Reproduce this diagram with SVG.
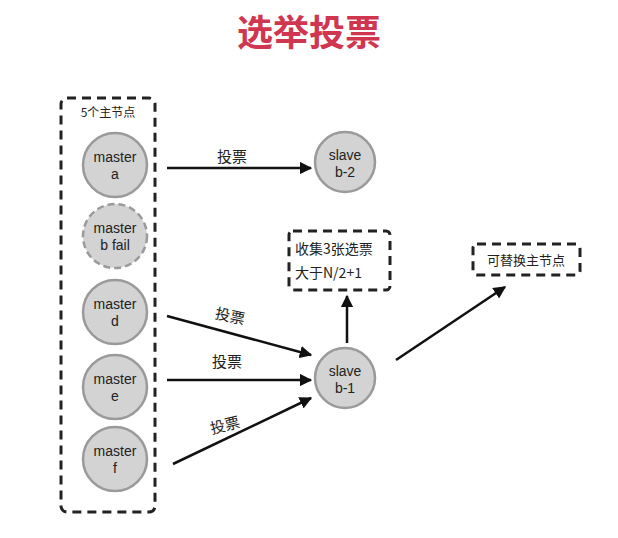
<svg xmlns="http://www.w3.org/2000/svg" width="618" height="538" viewBox="0 0 618 538">
<style>
.n{fill:#d3d3d3;stroke:#9a9a9a;stroke-width:2.5}
.t{font-family:"Liberation Sans",Arial,sans-serif;font-size:14px;fill:#222;text-anchor:middle}
.c{font-family:"Noto Sans CJK SC",sans-serif;fill:#222}
.box{fill:none;stroke:#222;stroke-width:3;stroke-dasharray:9 6}
.e{stroke:#111;stroke-width:2.5;fill:none;marker-end:url(#a)}
</style>
<defs><marker id="a" viewBox="0 0 10 10" refX="9" refY="5" markerWidth="5" markerHeight="5" orient="auto"><path d="M0,0L10,5L0,10z" fill="#111"/></marker></defs>
<rect width="618" height="538" fill="#fff"/>
<text x="309" y="46" font-family="Noto Sans CJK SC,sans-serif" font-size="36" font-weight="bold" fill="#d0364f" text-anchor="middle">选举投票</text>
<g id="group5"><rect class="box" x="61" y="98" width="94" height="414" rx="6"/>
<text class="c" x="108" y="117" font-size="12" text-anchor="middle">5个主节点</text></g>
<g id="ma"><circle class="n" cx="115" cy="165" r="32"/><text class="t" x="115" y="162">master</text><text class="t" x="115" y="179">a</text></g>
<g id="mb"><circle class="n" cx="115" cy="236" r="32" stroke-dasharray="7 4"/><text class="t" x="115" y="233">master</text><text class="t" x="115" y="250">b fail</text></g>
<g id="md"><circle class="n" cx="115" cy="312" r="32"/><text class="t" x="115" y="309">master</text><text class="t" x="115" y="326">d</text></g>
<g id="me"><circle class="n" cx="115" cy="387" r="32"/><text class="t" x="115" y="384">master</text><text class="t" x="115" y="401">e</text></g>
<g id="mf"><circle class="n" cx="115" cy="459" r="32"/><text class="t" x="115" y="456">master</text><text class="t" x="115" y="473">f</text></g>
<g id="sb2"><circle class="n" cx="345" cy="162" r="30"/><text class="t" x="345" y="160">slave</text><text class="t" x="345" y="177">b-2</text></g>
<g id="sb1"><circle class="n" cx="345" cy="378" r="30"/><text class="t" x="345" y="376">slave</text><text class="t" x="345" y="393">b-1</text></g>
<g id="collect"><rect class="box" x="289" y="231" width="101" height="59" rx="4"/>
<text class="c" x="295" y="254" font-size="14">收集3张选票</text><text class="c" x="295" y="278" font-size="14">大于N/2+1</text></g>
<g id="replace"><rect class="box" x="473" y="244" width="107" height="31" rx="4"/>
<text class="c" x="526" y="265" font-size="13" text-anchor="middle">可替换主节点</text></g>
<g id="edges">
<path class="e" d="M167,168H311"/>
<path class="e" d="M167,316L311,355"/>
<path class="e" d="M167,380H311"/>
<path class="e" d="M173,464L311,398"/>
<path class="e" d="M347,343V296"/>
<path class="e" d="M396,360L505,287"/>
<g class="c" font-size="15">
<text x="217" y="162">投票</text>
<text x="215" y="322" transform="rotate(12 232 317)">投票</text>
<text x="212" y="367">投票</text>
<text x="210" y="430" transform="rotate(-14 228 425)">投票</text>
</g></g>
</svg>
